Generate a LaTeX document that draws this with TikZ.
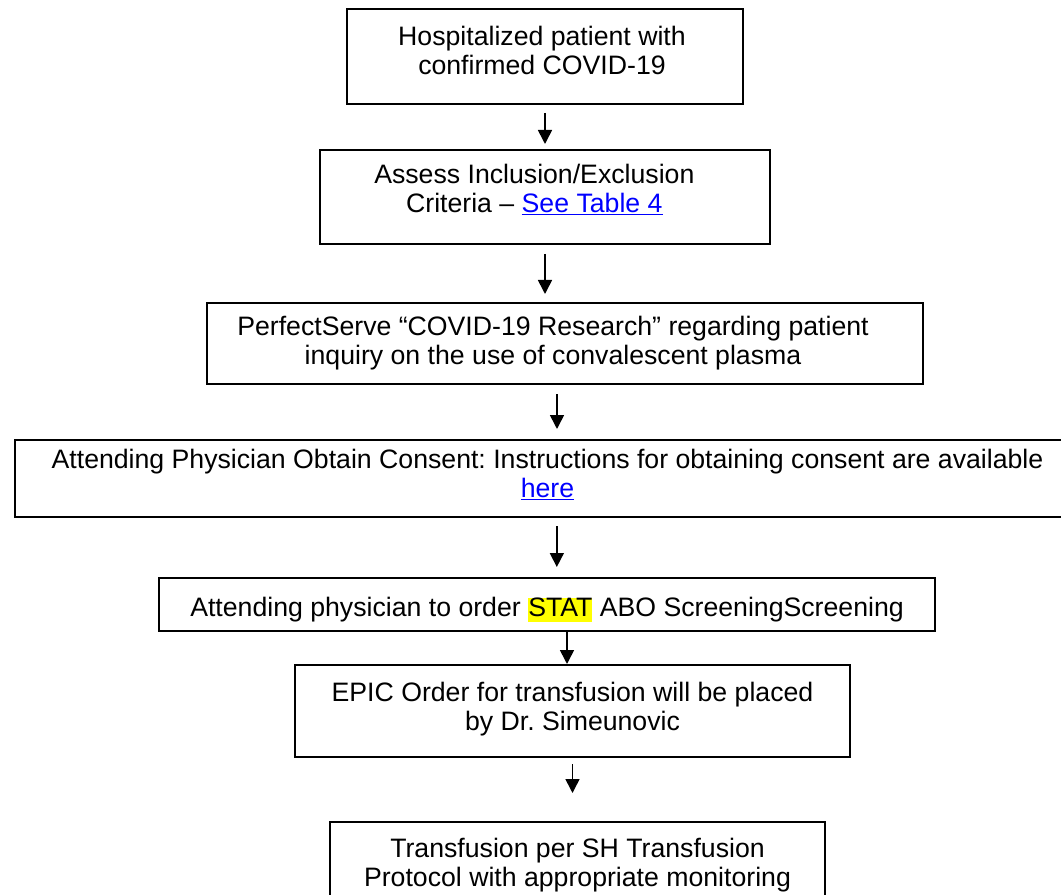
\documentclass[tikz,border=0pt]{standalone}
\usepackage{fontspec}
\setmainfont{Liberation Sans}
\usetikzlibrary{arrows.meta,positioning}
\frenchspacing

\definecolor{linkblue}{RGB}{0,0,255}
\definecolor{hilite}{RGB}{255,255,0}
\newcommand{\weblink}[1]{\textcolor{linkblue}{\underline{#1}}}
\newcommand{\hlmark}[1]{{\setlength{\fboxsep}{0pt}\colorbox{hilite}{\vphantom{Ag}#1}}}

\begin{document}
\begin{tikzpicture}[x=0.75pt, y=-0.75pt,
                    step node/.style={draw, line width=1.5pt, inner sep=0pt},
                    step text/.style={align=center, inner sep=0pt, font=\fontsize{20pt}{21.75pt}\selectfont},
                    flow/.style={-{Triangle[length=10.5pt,width=10.5pt]}, line width=1.2pt}]

	\useasboundingbox (0,0) rectangle (1061,895);

	% boxes
	\node[step node, minimum width=297pt, minimum height=71.25pt] (1) at (545,56.5) {};
	\node[step node, minimum width=337.5pt, minimum height=70.5pt] (2) at (545,197) {};
	\node[step node, minimum width=537pt, minimum height=60.75pt] (3) at (565,343.5) {};
	\node[step node, minimum width=798.75pt, minimum height=57.75pt] (4) at (547.5,478.5) {};
	\node[step node, minimum width=582pt, minimum height=39.75pt] (5) at (547,604.5) {};
	\node[step node, minimum width=416.25pt, minimum height=69pt] (6) at (572.5,711) {};
	\node[step node, minimum width=371.25pt, minimum height=82.5pt] (7) at (577.5,877) {};

	% texts
	\node[step text, below=13.5pt of 1.north, xshift=-2.25pt] (t1) {Hospitalized patient with\\confirmed COVID-19};
	\node[step text, below=11.25pt of 2.north, xshift=-8pt] (t2) {Assess Inclusion/Exclusion\\Criteria -- \weblink{See Table 4}};
	\node[step text, below=10.5pt of 3.north, xshift=-9pt] (t3) {PerfectServe “COVID-19 Research” regarding patient\\inquiry on the use of convalescent plasma};
	\node[step text, below=7.5pt of 4.north] (t4) {Attending Physician Obtain Consent: Instructions for obtaining consent are available\\\weblink{here}};
	\node[step text, below=15pt of 5.north] (t5) {Attending physician to order \hlmark{STAT} ABO ScreeningScreening};
	\node[step text, below=13.5pt of 6.north] (t6) {EPIC Order for transfusion will be placed\\by Dr. Simeunovic};
	\node[step text, below=12.75pt of 7.north] (t7) {Transfusion per SH Transfusion\\Protocol with appropriate monitoring};

	% arrows
	\draw[flow, shorten <=6pt, shorten >=3.75pt] (1.south) -- (2.north);
	\draw[flow, shorten <=6.75pt, shorten >=6pt] (2.south) -- (2.south |- 3.north);
	\draw[flow, shorten <=6.75pt, shorten >=7.5pt] ([xshift=-6pt]3.south) -- ([xshift=-6pt]3.south |- 4.north);
	\draw[flow, shorten <=6pt, shorten >=7.5pt] ([xshift=7pt]4.south) -- ([xshift=7pt]4.south |- 5.north);
	\draw[flow] ([xshift=15pt]5.south) -- ([xshift=15pt]5.south |- 6.north);
	\draw[flow, shorten <=4.5pt, shorten >=21pt] (6.south) -- (6.south |- 7.north);

\end{tikzpicture}
\end{document}
